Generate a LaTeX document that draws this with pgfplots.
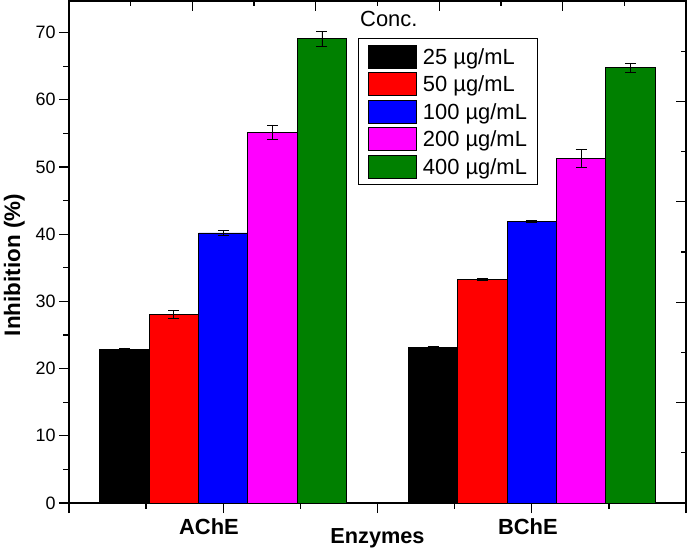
\documentclass[border=0pt]{standalone}
\usepackage{fontspec}
\setmainfont{Liberation Sans}
\usepackage{pgfplots}
\pgfplotsset{compat=1.18}
\definecolor{cgreen}{RGB}{0,128,0}
\definecolor{cmag}{RGB}{255,0,255}
\definecolor{cred}{RGB}{255,0,0}
\definecolor{cblue}{RGB}{0,0,255}
\pgfplotsset{
  sqleg/.style={legend image code/.code={\draw[##1, draw=black, line width=0.8bp] (0bp,-11.5bp) rectangle (48bp,11.5bp);}},
  mybar/.style={ybar, bar width=49.4bp, bar shift=0pt, draw=black, line width=0.9bp, sqleg,
    error bars/y dir=both, error bars/y explicit,
    error bars/error bar style={line width=0.8bp, black, solid},
    error bars/error mark options={rotate=90, mark size=5.5bp, line width=0.8bp, black}},
}
\begin{document}
\begin{tikzpicture}
\begin{axis}[
  name=main,
  scale only axis,
  width=617bp, height=502bp,
  xmin=0, xmax=8, ymin=0, ymax=74.7,
  axis line style={line width=1.5bp},
  xtick={0,2,4,6,8},
  xticklabels={},
  minor xtick={1,3,5,7},
  extra x ticks={1.815,5.95},
  extra x tick labels={AChE,BChE},
  extra x tick style={tick style={draw=none}},
  ytick={0,10,...,70},
  minor ytick={5,15,...,65},
  xtick pos=bottom, ytick pos=left,
  tick align=outside,
  major tick length=10bp, minor tick length=5.5bp,
  tick style={line width=1.3bp, black},
  /pgf/number format/assume math mode=true,
  yticklabel style={font=\fontsize{18}{21}\selectfont},
  xticklabel style={font=\bfseries\fontsize{22}{26}\selectfont, yshift=-2bp},
  xlabel={Enzymes},
  xlabel style={at={(axis description cs:0.5,-0.0797)}, anchor=base, inner sep=0pt, font=\bfseries\fontsize{21.8}{26}\selectfont},
  ylabel={Inhibition (\%)},
  ylabel style={at={(axis description cs:-0.0794,0.474)}, anchor=base, inner sep=0pt, font=\bfseries\fontsize{22.5}{26}\selectfont},
  legend style={at={(rel axis cs:0.468,0.9269)}, anchor=north west,
    draw=black, line width=0.8bp,
    inner xsep=10bp, inner ysep=6.5bp, row sep=3.7bp,
    nodes={inner sep=0pt, text height=15.7bp, text depth=0bp, font=\fontsize{22}{26}\selectfont},
    /tikz/every odd column/.append style={column sep=6bp}},
  legend cell align=left,
]
\addplot[mybar, fill=black] coordinates {(0.72,22.87) +- (0,0.2) (4.72,23.17) +- (0,0.15)};
\addlegendentry{25 µg/mL}
\addplot[mybar, fill=cred] coordinates {(1.36,28.08) +- (0,0.62) (5.36,33.29) +- (0,0.15)};
\addlegendentry{50 µg/mL}
\addplot[mybar, fill=cblue] coordinates {(2,40.18) +- (0,0.37) (6,41.92) +- (0,0.1)};
\addlegendentry{100 µg/mL}
\addplot[mybar, fill=cmag] coordinates {(2.64,55.2) +- (0,1.05) (6.64,51.25) +- (0,1.3)};
\addlegendentry{200 µg/mL}
\addplot[mybar, fill=cgreen] coordinates {(3.28,69.1) +- (0,1.1) (7.28,64.79) +- (0,0.67)};
\addlegendentry{400 µg/mL}
\node[anchor=base west, font=\fontsize{22}{26}\selectfont, inner sep=0pt] at (rel axis cs:0.4716,0.949) {Conc.};
\end{axis}
\begin{scope}[overlay]
\begin{axis}[
  scale only axis,
  width=617bp, height=502bp,
  xmin=0, xmax=1, ymin=0, ymax=1,
  axis line style={draw=none},
  xtick={0.2,0.4,0.6,0.8}, minor xtick={0.1,0.3,0.5,0.7,0.9},
  ytick={0.2,0.4,0.6,0.8}, minor ytick={0.1,0.3,0.5,0.7,0.9},
  xticklabels={}, yticklabels={},
  xtick pos=top, ytick pos=right,
  tick align=inside,
  major tick length=10bp, minor tick length=5.5bp,
  tick style={line width=1.3bp, black},
]
\end{axis}
\end{scope}
\pgfresetboundingbox
\path[use as bounding box] ([xshift=-69bp,yshift=-46bp]main.south west) rectangle ([xshift=1bp,yshift=1bp]main.north east);
\end{tikzpicture}
\end{document}
